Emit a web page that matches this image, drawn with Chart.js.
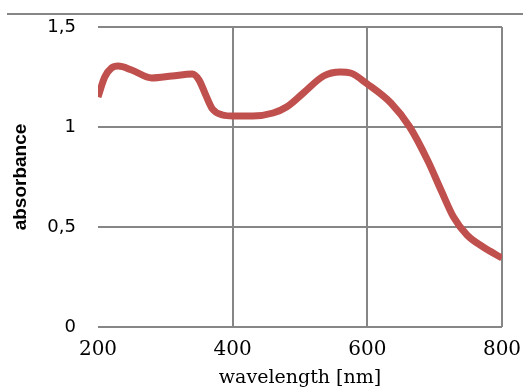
<!DOCTYPE html>
<html>
<head>
    <title>Absorbance spectrum</title>
    <script src="https://cdn.jsdelivr.net/npm/chart.js@4.4.1/dist/chart.umd.min.js"></script>
    <style>
        body { margin: 0; background: #fff; }
        #wrap { position: relative; width: 523px; height: 391px; }
        #topLine { position: absolute; left: 7px; top: 13px; width: 516px; height: 2px; background: #868686; }
    </style>
</head>
<body>
    <div id="wrap">
        <div id="topLine"></div>
        <canvas id="myChart" width="523" height="391"></canvas>
    </div>
    <script>
        // spectrum
        var wavelength = [200, 210, 220, 230, 250, 280, 310, 340, 350, 360, 370, 385, 400, 430, 460, 480, 505, 535, 560, 575, 600, 635, 663, 690, 710, 728, 748, 772, 800];
        var absorbance = [1.15, 1.25, 1.295, 1.305, 1.285, 1.245, 1.255, 1.265, 1.235, 1.16, 1.09, 1.06, 1.055, 1.055, 1.07, 1.10, 1.17, 1.255, 1.275, 1.27, 1.215, 1.12, 1.0, 0.83, 0.68, 0.55, 0.46, 0.40, 0.345];

        var xTicks = [200, 400, 600, 800];
        var yTicks = [0, 0.5, 1, 1.5];

        var points = [];
        for (var i = 0; i < wavelength.length; i++) {
            points.push({ x: wavelength[i], y: absorbance[i] });
        }

        var gridGray = '#868686';
        var ctx = document.getElementById('myChart').getContext('2d');
        var myChart = new Chart(ctx, {
            type: 'line',
            data: {
                datasets: [{
                    data: points,
                    borderColor: '#c0504d',
                    borderWidth: 7,
                    pointRadius: 0,
                    fill: false,
                    cubicInterpolationMode: 'monotone'
                }]
            },
            options: {
                responsive: false,
                animation: false,
                layout: { padding: { left: 0, right: 21, top: 27, bottom: 0 } },
                plugins: { legend: { display: false }, tooltip: { enabled: false } },
                scales: {
                    x: {
                        type: 'linear',
                        min: xTicks[0],
                        max: xTicks[xTicks.length - 1],
                        afterBuildTicks: function (scale) {
                            scale.ticks = xTicks.map(function (v) { return { value: v }; });
                        },
                        afterFit: function (scale) {
                            scale.height = 64;
                            scale.paddingLeft = 0;
                            scale.paddingRight = 0;
                        },
                        border: { display: false },
                        grid: {
                            drawTicks: false,
                            lineWidth: 2,
                            color: function (c) { return c.tick && c.tick.value === 200 ? 'rgba(0,0,0,0)' : gridGray; }
                        },
                        ticks: {
                            padding: 11,
                            maxRotation: 0,
                            color: '#000',
                            font: { family: 'DejaVu Serif', size: 20 }
                        },
                        title: {
                            display: true,
                            text: 'wavelength [nm]',
                            color: '#000',
                            padding: { top: 0, bottom: 2 },
                            font: { family: 'DejaVu Serif', size: 19 }
                        }
                    },
                    y: {
                        min: 0,
                        max: 1.5,
                        afterBuildTicks: function (scale) {
                            scale.ticks = yTicks.map(function (v) { return { value: v }; });
                        },
                        afterFit: function (scale) {
                            scale.width = 98;
                            scale.paddingTop = 0;
                            scale.paddingBottom = 0;
                        },
                        border: { display: false },
                        grid: { drawTicks: false, lineWidth: 2, color: gridGray },
                        ticks: {
                            padding: 22,
                            color: '#000',
                            font: { family: 'DejaVu Sans', size: 18 },
                            callback: function (v) { return String(v).replace('.', ','); }
                        },
                        title: {
                            display: true,
                            text: 'absorbance',
                            color: '#000',
                            padding: { top: 9, bottom: 0 },
                            font: { family: 'Liberation Sans', size: 19, weight: 'bold' }
                        }
                    }
                }
            }
        });
    </script>
</body>
</html>
